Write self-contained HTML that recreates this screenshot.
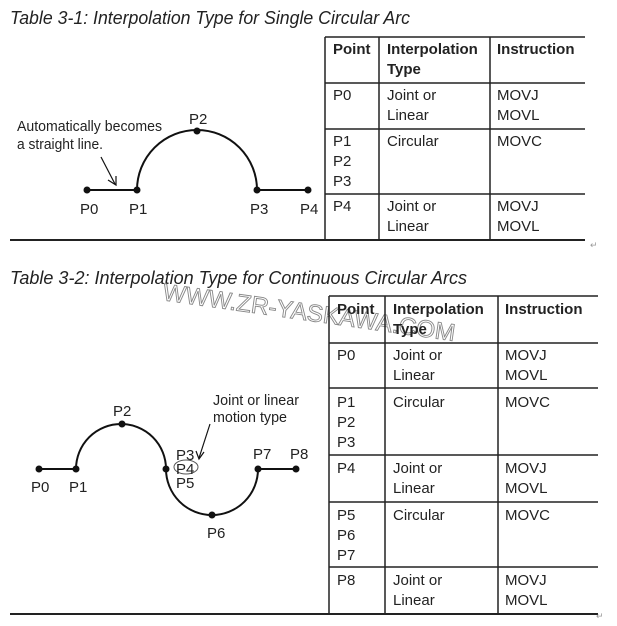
<!DOCTYPE html>
<html><head><meta charset="utf-8"><style>
html,body{margin:0;padding:0;background:#fff;}
svg{display:block;font-family:"Liberation Sans",Arial,sans-serif;}
</style></head><body>
<svg width="617" height="626" viewBox="0 0 617 626" xmlns="http://www.w3.org/2000/svg" font-family="'Liberation Sans', Arial, sans-serif">
<g fill="#222" font-size="18" font-style="italic" font-family="'Liberation Sans', Arial, sans-serif">
<text x="10" y="24" textLength="400" lengthAdjust="spacingAndGlyphs">Table 3-1: Interpolation Type for Single Circular Arc</text>
<text x="10" y="284" textLength="457" lengthAdjust="spacingAndGlyphs">Table 3-2: Interpolation Type for Continuous Circular Arcs</text>
</g>
<g stroke="#222" stroke-width="1.5" fill="none">
<line x1="325" y1="37" x2="325" y2="240"/>
<line x1="379" y1="37" x2="379" y2="240"/>
<line x1="490" y1="37" x2="490" y2="240"/>
<line x1="325" y1="37" x2="585" y2="37"/>
<line x1="325" y1="83" x2="585" y2="83"/>
<line x1="325" y1="129" x2="585" y2="129"/>
<line x1="325" y1="194" x2="585" y2="194"/>
<line x1="10" y1="240" x2="585" y2="240" stroke-width="2"/>
</g>
<g fill="#222" font-size="15" font-family="'Liberation Sans', Arial, sans-serif">
<text x="333" y="54" font-weight="bold">Point</text>
<text x="387" y="54" font-weight="bold">Interpolation</text>
<text x="387" y="74" font-weight="bold">Type</text>
<text x="497" y="54" font-weight="bold">Instruction</text>
<text x="333" y="100">P0</text><text x="387" y="100">Joint or</text><text x="387" y="120">Linear</text>
<text x="497" y="100">MOVJ</text><text x="497" y="120">MOVL</text>
<text x="333" y="146">P1</text><text x="333" y="166">P2</text><text x="333" y="186">P3</text>
<text x="387" y="146">Circular</text><text x="497" y="146">MOVC</text>
<text x="333" y="211">P4</text><text x="387" y="211">Joint or</text><text x="387" y="231">Linear</text>
<text x="497" y="211">MOVJ</text><text x="497" y="231">MOVL</text>
</g>
<g stroke="#111" stroke-width="2" fill="none">
<line x1="87" y1="190" x2="137" y2="190"/>
<path d="M137 190 A60 60 0 0 1 257 190"/>
<line x1="257" y1="190" x2="308" y2="190"/>
<line x1="101" y1="157" x2="115" y2="184" stroke-width="1.2"/>
<path d="M108 180 L116 185 L116 176" stroke-width="1.2"/>
</g>
<g fill="#111">
<circle cx="87" cy="190" r="3.5"/><circle cx="137" cy="190" r="3.5"/>
<circle cx="197" cy="131" r="3.5"/><circle cx="257" cy="190" r="3.5"/><circle cx="308" cy="190" r="3.5"/>
</g>
<g fill="#222" font-size="15" font-family="'Liberation Sans', Arial, sans-serif">
<text x="80" y="214">P0</text><text x="129" y="214">P1</text><text x="189" y="124">P2</text>
<text x="250" y="214">P3</text><text x="300" y="214">P4</text>
<text x="17" y="131" textLength="145" lengthAdjust="spacingAndGlyphs">Automatically becomes</text>
<text x="17" y="149" textLength="86" lengthAdjust="spacingAndGlyphs">a straight line.</text>
</g>
<text x="162" y="300" font-size="24" fill="none" stroke="#888" stroke-width="0.9" transform="rotate(8 162 300)" textLength="295" lengthAdjust="spacingAndGlyphs" font-family="'Liberation Sans', Arial, sans-serif">WWW.ZR-YASKAWA.COM</text>
<g stroke="#222" stroke-width="1.5" fill="none">
<line x1="329" y1="296" x2="329" y2="614"/>
<line x1="385" y1="296" x2="385" y2="614"/>
<line x1="498" y1="296" x2="498" y2="614"/>
<line x1="329" y1="296" x2="598" y2="296"/>
<line x1="329" y1="343" x2="598" y2="343"/>
<line x1="329" y1="388" x2="598" y2="388"/>
<line x1="329" y1="455" x2="598" y2="455"/>
<line x1="329" y1="502" x2="598" y2="502"/>
<line x1="329" y1="567" x2="598" y2="567"/>
<line x1="10" y1="614" x2="598" y2="614" stroke-width="2"/>
</g>
<g fill="#222" font-size="15" font-family="'Liberation Sans', Arial, sans-serif">
<text x="337" y="314" font-weight="bold">Point</text>
<text x="393" y="314" font-weight="bold">Interpolation</text>
<text x="393" y="334" font-weight="bold">Type</text>
<text x="505" y="314" font-weight="bold">Instruction</text>
<text x="337" y="360">P0</text><text x="393" y="360">Joint or</text><text x="393" y="380">Linear</text>
<text x="505" y="360">MOVJ</text><text x="505" y="380">MOVL</text>
<text x="337" y="407">P1</text><text x="337" y="427">P2</text><text x="337" y="447">P3</text>
<text x="393" y="407">Circular</text><text x="505" y="407">MOVC</text>
<text x="337" y="473">P4</text><text x="393" y="473">Joint or</text><text x="393" y="493">Linear</text>
<text x="505" y="473">MOVJ</text><text x="505" y="493">MOVL</text>
<text x="337" y="520">P5</text><text x="337" y="540">P6</text><text x="337" y="560">P7</text>
<text x="393" y="520">Circular</text><text x="505" y="520">MOVC</text>
<text x="337" y="585">P8</text><text x="393" y="585">Joint or</text><text x="393" y="605">Linear</text>
<text x="505" y="585">MOVJ</text><text x="505" y="605">MOVL</text>
</g>
<g stroke="#111" stroke-width="2" fill="none">
<line x1="39" y1="469" x2="76" y2="469"/>
<path d="M76 469 A45 45 0 0 1 166 469"/>
<path d="M166 469 A46 46 0 0 0 258 469"/>
<line x1="258" y1="469" x2="296" y2="469"/>
<line x1="210" y1="424" x2="199" y2="458" stroke-width="1.2"/>
<path d="M196 451 L199 459 L204 452" stroke-width="1.2"/>
<ellipse cx="186" cy="467" rx="12" ry="7" stroke-width="1" stroke="#555"/>
</g>
<g fill="#111">
<circle cx="39" cy="469" r="3.5"/><circle cx="76" cy="469" r="3.5"/><circle cx="122" cy="424" r="3.5"/>
<circle cx="166" cy="469" r="3.5"/><circle cx="212" cy="515" r="3.5"/><circle cx="258" cy="469" r="3.5"/><circle cx="296" cy="469" r="3.5"/>
</g>
<g fill="#222" font-size="15" font-family="'Liberation Sans', Arial, sans-serif">
<text x="31" y="492">P0</text><text x="69" y="492">P1</text><text x="113" y="416">P2</text>
<text x="176" y="460">P3</text><text x="176" y="474">P4</text><text x="176" y="488">P5</text>
<text x="207" y="538">P6</text><text x="253" y="459">P7</text><text x="290" y="459">P8</text>
<text x="213" y="405" textLength="86" lengthAdjust="spacingAndGlyphs">Joint or linear</text>
<text x="213" y="422" textLength="74" lengthAdjust="spacingAndGlyphs">motion type</text>
</g>
<g fill="#999" font-size="9"><text x="590" y="248">↵</text><text x="596" y="619">↵</text></g>
</svg>
</body></html>
